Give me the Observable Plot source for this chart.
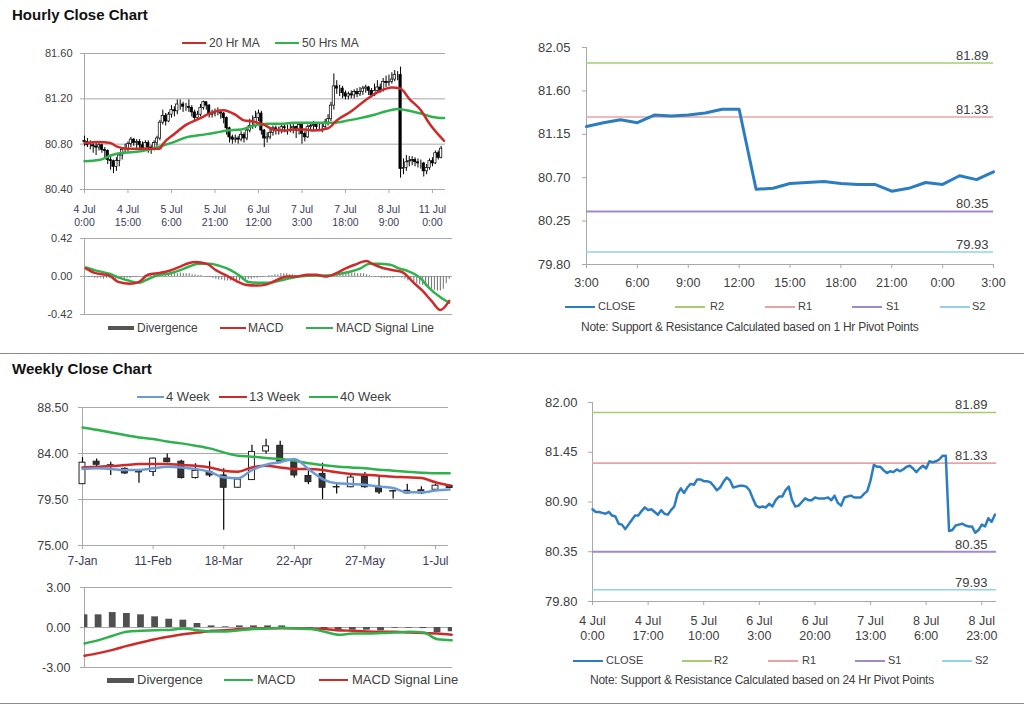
<!DOCTYPE html>
<html><head><meta charset="utf-8">
<script src="https://cdn.jsdelivr.net/npm/d3@7"></script>
<script src="https://cdn.jsdelivr.net/npm/@observablehq/plot@0.6"></script>
<style>
body{margin:0;background:#fff;font-family:"Liberation Sans",Arial,sans-serif;}
#root{position:relative;width:1024px;height:706px;overflow:hidden;background:#fff}
.abs{position:absolute;white-space:nowrap}
.title{font-weight:bold;font-size:15px;color:#111;line-height:18px}
.sep{position:absolute;left:0;width:1024px;height:0;border-top:1px solid #8c8c8c}
</style></head>
<body><div id="root"></div>
<script>
// ---------- Hourly data (4 Jul 0:00 .. 11 Jul 3:00, trading hours) ----------
const hClose = [
80.82,80.79,80.79,80.78,80.77,80.79,80.75,80.74,80.66,80.65,
80.60,80.65,80.70,80.75,80.75,80.80,80.84,80.81,80.82,80.79,
80.76,80.81,80.77,80.76,80.81,80.85,80.99,81.05,81.00,81.06,
81.10,81.09,81.15,81.15,81.13,81.13,81.12,81.08,81.03,81.06,
81.12,81.17,81.14,81.06,81.07,81.08,81.08,81.07,81.03,80.94,
80.86,80.84,80.85,80.84,80.88,80.85,80.92,80.96,80.96,81.03,
81.07,80.92,80.85,80.86,80.90,80.94,80.92,80.92,80.95,80.94,
80.94,80.94,80.95,80.92,80.97,80.89,80.86,80.95,80.96,80.97,
80.95,80.95,80.95,80.99,81.02,81.14,81.31,81.29,81.29,81.25,
81.22,81.24,81.23,81.26,81.24,81.26,81.29,81.30,81.27,81.23,
81.27,81.30,81.27,81.35,81.34,81.35,81.37,81.41,81.41,80.58,
80.59,80.64,80.65,80.66,80.64,80.63,80.63,80.56,80.59,80.65,
80.63,80.72,80.68,80.76];
const hOpen0 = 80.83;
const hHigh = [
80.87,80.85,80.83,80.82,80.81,80.82,80.80,80.77,80.75,80.69,
80.66,80.68,80.72,80.77,80.80,80.82,80.86,80.85,80.84,80.84,
80.82,80.83,80.83,80.79,80.83,80.87,81.01,81.10,81.07,81.08,
81.14,81.13,81.19,81.19,81.17,81.16,81.19,81.14,81.10,81.09,
81.15,81.18,81.17,81.15,81.10,81.11,81.12,81.10,81.08,81.04,
80.95,80.88,80.88,80.87,80.91,80.90,80.95,81.02,81.05,81.09,
81.10,81.09,80.93,80.90,80.93,80.96,80.96,80.95,80.97,80.98,
80.97,80.98,80.98,80.96,80.99,80.98,80.91,80.97,80.99,81.00,
80.99,80.98,80.98,81.02,81.06,81.17,81.42,81.36,81.32,81.31,
81.27,81.26,81.27,81.28,81.29,81.30,81.31,81.32,81.31,81.29,
81.33,81.36,81.33,81.38,81.40,81.41,81.43,81.45,81.44,81.48,
80.67,80.70,80.69,80.69,80.68,80.67,80.66,80.64,80.62,80.67,
80.68,80.74,80.74,80.78];
const hLow = [
80.78,80.77,80.75,80.72,80.70,80.74,80.72,80.68,80.62,80.57,
80.54,80.56,80.60,80.66,80.72,80.73,80.77,80.78,80.76,80.75,
80.73,80.74,80.72,80.71,80.74,80.78,80.83,80.97,80.96,80.99,
81.03,81.04,81.06,81.10,81.08,81.09,81.08,81.04,81.00,81.01,
81.04,81.10,81.10,81.03,81.03,81.04,81.05,81.02,80.98,80.88,
80.81,80.80,80.81,80.80,80.82,80.81,80.83,80.90,80.93,80.94,
81.00,80.88,80.77,80.81,80.84,80.87,80.88,80.88,80.89,80.90,
80.88,80.90,80.89,80.85,80.88,80.80,80.82,80.85,80.92,80.92,
80.91,80.91,80.90,80.93,80.96,81.00,81.10,81.24,81.22,81.20,
81.19,81.19,81.20,81.20,81.21,81.22,81.23,81.25,81.23,81.21,
81.22,81.25,81.25,81.26,81.30,81.31,81.33,81.35,81.36,80.50,
80.53,80.56,80.60,80.61,80.60,80.59,80.58,80.51,80.53,80.57,
80.60,80.62,80.66,80.67];
// moving averages read at sample hours
const ma20Idx = [0,5,9,11,15,19,23,26,27,31,35,40,43,48,52,55,58,62,65,69,72,76,79,84,87,92,97,102,106,109,112,116,119,124];
const ma20Val = [80.81,80.82,80.81,80.78,80.76,80.76,80.76,80.76,80.80,80.89,80.97,81.03,81.07,81.10,81.06,81.01,81.00,80.97,80.93,80.92,80.93,80.93,80.92,80.94,81.01,81.09,81.19,81.27,81.30,81.29,81.20,81.10,80.98,80.83];
const ma50Idx = [0,5,9,12,17,22,26,31,35,40,45,49,54,58,63,68,72,77,81,86,91,95,100,104,108,111,116,120,124];
const ma50Val = [80.65,80.66,80.70,80.72,80.73,80.75,80.78,80.82,80.86,80.88,80.90,80.92,80.93,80.96,80.98,80.98,80.99,80.99,80.99,80.99,81.01,81.03,81.06,81.09,81.11,81.10,81.07,81.04,81.03];
const hTickIdx = [0,15,30,45,60,75,90,105,120];
const hTickLabels = ["4 Jul\n0:00","4 Jul\n15:00","5 Jul\n6:00","5 Jul\n21:00","6 Jul\n12:00","7 Jul\n3:00","7 Jul\n18:00","8 Jul\n9:00","11 Jul\n0:00"];
const hPriceTicks = [80.40,80.80,81.20,81.60];
// hourly MACD
const hMacdIdx = [0,3,8,11,15,18,21,25,28,32,35,37,41,44,47,51,54,58,61,64,68,71,75,78,81,85,88,91,95,97,100,104,107,111,114,117,120,123];
const hMacdVal = [0.09,0.04,0.01,-0.06,-0.08,-0.06,0.02,0.04,0.06,0.11,0.15,0.16,0.14,0.07,0.02,-0.05,-0.09,-0.10,-0.09,-0.05,0.00,0.00,0.02,0.02,0.00,0.04,0.09,0.13,0.17,0.14,0.10,0.07,0.05,-0.07,-0.16,-0.27,-0.37,-0.27];
const hSigIdx = [0,3,8,11,15,18,21,25,28,32,35,38,42,45,49,52,55,59,62,65,69,72,78,82,86,89,93,96,99,103,106,109,113,116,120,123];
const hSigVal = [0.10,0.07,0.03,-0.01,-0.05,-0.07,-0.03,0.02,0.03,0.07,0.11,0.14,0.14,0.12,0.07,0.01,-0.06,-0.07,-0.07,-0.05,-0.02,0.00,0.01,0.01,0.03,0.05,0.09,0.14,0.14,0.13,0.09,0.06,-0.01,-0.12,-0.23,-0.29];
const hDiv = [
0,-0.01,-0.01,-0.02,-0.02,-0.02,-0.03,-0.02,-0.02,-0.02,
-0.03,-0.03,-0.02,-0.03,-0.02,-0.02,-0.01,-0.01,0,0,
0.01,0.02,0.02,0.03,0.03,0.03,0.03,0.04,0.03,0.03,
0.03,0.03,0.04,0.03,0.03,0.03,0.02,0.02,0.01,0.01,
0,-0.01,-0.01,-0.02,-0.03,-0.04,-0.04,-0.05,-0.05,-0.05,
-0.04,-0.05,-0.05,-0.04,-0.04,-0.03,-0.03,-0.02,-0.02,-0.01,
-0.01,0,0.01,0.01,0.02,0.02,0.03,0.03,0.03,0.02,
0.02,0.01,0.01,0,0,0,0,0,0,-0.01,
0,0,0,0.01,0.02,0.03,0.03,0.04,0.04,0.04,
0.04,0.04,0.03,0.03,0.03,0.02,0.01,0,-0.01,-0.01,
-0.02,-0.02,-0.02,-0.02,-0.02,-0.01,-0.01,-0.02,-0.03,-0.05,
-0.06,-0.07,-0.08,-0.09,-0.10,-0.11,-0.12,-0.14,-0.15,-0.16,
-0.16,-0.14,-0.08,-0.03];
const hMacdTicks = [-0.42,0,0.42];

// ---------- 24-hour close chart (last 25 hours) ----------
const dayTickIdx = [0,3,6,9,12,15,18,21,24];
const dayTickLabels = ["3:00","6:00","9:00","12:00","15:00","18:00","21:00","0:00","3:00"];
const dayPriceTicks = [79.80,80.25,80.70,81.15,81.60,82.05];
// pivot levels
const levelNames = ["R2","R1","S1","S2"];
const levelValues = [81.89,81.33,80.35,79.93];
const levelColors = ["#a6cc72","#e8a4a4","#a08ac8","#92d3e8"];

// ---------- hourly close full period ----------
const fullTickIdx = [0,17,34,51,68,85,102,119];
const fullTickLabels = ["4 Jul\n0:00","4 Jul\n17:00","5 Jul\n10:00","6 Jul\n3:00","6 Jul\n20:00","7 Jul\n13:00","8 Jul\n6:00","8 Jul\n23:00"];
const fullPriceTicks = [79.80,80.35,80.90,81.45,82.00];

// ---------- Weekly data (7-Jan .. 8-Jul) ----------
const wOpen  = [81.0,83.2,82.85,82.5,82.25,82.2,83.5,83.2,81.6,82.2,81.85,80.65,81.4,84.2,84.75,83.15,81.8,82.0,80.72,80.7,81.75,80.75,80.32,80.35,80.4,80.45,80.85];
const wClose = [83.1,82.9,82.7,82.05,82.15,83.5,83.15,81.6,82.3,81.85,80.65,81.45,84.15,84.7,83.2,81.85,81.2,80.65,80.68,81.65,80.7,80.2,80.28,80.1,80.1,80.85,80.63];
const wHigh  = [83.6,83.45,83.15,82.6,82.35,83.55,83.95,83.35,83.0,83.2,82.5,81.5,84.8,85.4,85.2,83.45,82.3,83.05,81.0,81.9,82.15,81.65,80.4,81.0,80.75,81.0,80.95];
const wLow   = [81.0,82.65,81.85,81.95,81.1,81.75,83.1,81.5,81.5,81.65,76.5,80.6,81.35,83.95,83.0,81.6,80.95,79.5,80.05,80.65,80.6,79.98,79.55,80.05,80.0,80.4,80.55];
const wMa4  = [82.48,82.55,82.48,82.38,82.38,82.55,82.71,82.64,82.48,82.22,81.67,81.57,82.38,82.9,83.15,83.46,82.48,81.5,81.08,81.02,80.95,80.76,80.63,80.2,80.2,80.37,80.47];
const wMa13 = [82.64,82.71,82.77,82.87,82.97,82.97,82.97,82.87,82.8,82.64,82.32,82.22,82.64,82.8,82.64,82.48,82.48,82.38,82.16,82.0,81.93,81.83,81.73,81.67,81.6,81.18,80.86];
const wMa40 = [86.55,86.32,86.06,85.8,85.57,85.41,85.18,84.99,84.76,84.5,84.11,83.78,83.69,83.56,83.46,83.3,83.04,82.87,82.74,82.64,82.55,82.42,82.32,82.22,82.12,82.06,82.06];
const wTickIdx = [0,5,10,15,20,25];
const wTickLabels = ["7-Jan","11-Feb","18-Mar","22-Apr","27-May","1-Jul"];
const wPriceTicks = [75.00,79.50,84.00,88.50];
const wDiv  = [0.95,0.95,1.12,1.05,0.95,0.8,0.62,0.55,0.3,0.12,0.05,0.12,0.12,0.12,0.12,0,-0.05,-0.12,-0.32,-0.2,-0.2,-0.25,-0.05,-0.05,-0.08,-0.38,-0.32];
const wMacd = [-1.2,-0.95,-0.62,-0.32,-0.25,-0.2,-0.18,-0.08,-0.2,-0.3,-0.3,-0.2,-0.12,-0.08,-0.02,-0.08,-0.12,-0.32,-0.55,-0.45,-0.45,-0.42,-0.38,-0.32,-0.38,-0.88,-0.95];
const wSig  = [-2.12,-1.92,-1.68,-1.38,-1.12,-0.88,-0.68,-0.5,-0.38,-0.25,-0.2,-0.12,-0.08,-0.05,-0.05,-0.05,-0.08,-0.12,-0.2,-0.25,-0.3,-0.32,-0.32,-0.38,-0.42,-0.45,-0.55];
const wMacdTicks = [-3,0,3];

// ---------- colours ----------
const RED = "#cf2a2a", GREEN = "#2fb24e", BLUE = "#2b7dc2", LBLUE = "#6b9bd6", GRID = "#a8a8a8", TXT = "#404040", XTXT = "#3b3b58";
const FONT = '"Liberation Sans", Arial, sans-serif';

const root = document.getElementById("root");
function place(el, left, top){ const d=document.createElement("div"); d.style.cssText=`position:absolute;left:${left}px;top:${top}px;`; d.appendChild(el); root.appendChild(d); return d; }
function P(opts, left, top){
  const o = {...opts,
    x:{label:null, ...(opts.x||{})}, y:{label:null, ...(opts.y||{})},
    style:{fontFamily:FONT, background:"transparent", overflow:"visible", color:TXT}};
  return place(Plot.plot(o), left, top);
}
function txt(s, left, top, css){ const d=document.createElement("div"); d.className="abs"; d.textContent=s; d.style.cssText+=`left:${left}px;top:${top}px;`+(css||""); root.appendChild(d); return d; }
function legend(items, yc, fs){
  items.forEach(([sx, sw, color, th, tx, label]) => {
    const s=document.createElement("div"); s.className="abs";
    s.style.cssText+=`left:${sx}px;top:${yc-th/2}px;width:${sw}px;height:${th}px;background:${color};`;
    root.appendChild(s);
    txt(label, tx, yc - fs*0.6, `font-size:${fs}px;color:${TXT};line-height:${fs*1.2}px;`);
  });
}
const f2 = d => d.toFixed(2);
const lbl = (ticks, labels) => d => labels[ticks.indexOf(d)];
const pts = (idx, val) => idx.map((x,k)=>({x, y:val[k]}));

// ---------- titles & separators ----------
txt("Hourly Close Chart", 12, 6, "").className="abs title";
txt("Weekly Close Chart", 12, 360, "").className="abs title";
const s1=document.createElement("div"); s1.className="sep"; s1.style.top="353px"; root.appendChild(s1);
const s2=document.createElement("div"); s2.className="sep"; s2.style.top="703px"; root.appendChild(s2);

// ---------- Panel A: hourly candles ----------
const hRows = hClose.map((c,i)=>({i, o: i? hClose[i-1] : hOpen0, c, h:hHigh[i], l:hLow[i]}));
P({
  width:470, height:200, marginLeft:84, marginRight:25, marginTop:23, marginBottom:41,
  x:{domain:[0,124.5]}, y:{domain:[80.40,81.60]},
  marks:[
    Plot.ruleY(hPriceTicks, {stroke:GRID}),
    Plot.ruleX([0], {stroke:GRID}),
    Plot.axisY(hPriceTicks, {tickFormat:f2, tickSize:4, tickPadding:8, stroke:GRID, fill:TXT, fontSize:11}),
    Plot.axisX(hTickIdx, {tickFormat:lbl(hTickIdx,hTickLabels), tickSize:4, tickPadding:11, stroke:GRID, fill:XTXT, fontSize:10.5, lineHeight:1.2}),
    Plot.ruleX(hRows, {x:"i", y1:"l", y2:"h", stroke:"#000", strokeWidth:1}),
    Plot.rect(hRows.filter(d=>d.c>=d.o), {x1:d=>d.i-0.4, x2:d=>d.i+0.4, y1:"o", y2:"c", fill:"#fff", stroke:"#000", strokeWidth:0.7}),
    Plot.rect(hRows.filter(d=>d.c<d.o), {x1:d=>d.i-0.4, x2:d=>d.i+0.4, y1:"o", y2:"c", fill:"#000", stroke:"#000", strokeWidth:0.7}),
    Plot.line(pts(ma50Idx, ma50Val), {x:"x", y:"y", stroke:GREEN, strokeWidth:2.5, curve:"monotone-x"}),
    Plot.line(pts(ma20Idx, ma20Val), {x:"x", y:"y", stroke:RED, strokeWidth:2.5, curve:"monotone-x"})
  ]
}, 0, 30);
legend([[182,24,RED,2,209,"20 Hr MA"],[275,24,GREEN,2,302,"50 Hrs MA"]], 43, 12);

// ---------- Panel A': hourly MACD ----------
P({
  width:470, height:95, marginLeft:84, marginRight:18, marginTop:13, marginBottom:6,
  x:{domain:[-0.44,124.1], axis:null}, y:{domain:[-0.42,0.42]},
  marks:[
    Plot.ruleY(hMacdTicks, {stroke:GRID}),
    Plot.ruleX([-0.44], {stroke:GRID}),
    Plot.axisY(hMacdTicks, {tickFormat:f2, tickSize:4, tickPadding:8, stroke:GRID, fill:TXT, fontSize:11}),
    Plot.ruleX(hDiv.map((v,i)=>({i,v})), {x:"i", y1:0, y2:"v", stroke:"#7a7a7a", strokeWidth:1.1}),
    Plot.line(pts(hSigIdx, hSigVal), {x:"x", y:"y", stroke:GREEN, strokeWidth:2.5, curve:"monotone-x"}),
    Plot.line(pts(hMacdIdx, hMacdVal), {x:"x", y:"y", stroke:RED, strokeWidth:2.5, curve:"monotone-x"})
  ]
}, 0, 225);
legend([[108,26,"#555",4,137,"Divergence"],[220,26,RED,2,248,"MACD"],[306,27,GREEN,2,336,"MACD Signal Line"]], 328, 12);

// ---------- Panel B: last 24 hours with pivots ----------
const dayRows = hClose.slice(hClose.length-25).map((v,k)=>({k,v}));
function pivotMarks(dx){
  return [
    ...levelValues.map((v,k)=>Plot.ruleY([v], {stroke:levelColors[k], strokeWidth:k===2?2:1.6})),
    Plot.text(levelValues, {y:d=>d, text:f2, frameAnchor:"right", textAnchor:"end", lineAnchor:"bottom", dx, dy:-3, fontSize:13, fill:TXT})
  ];
}
P({
  width:490, height:270, marginLeft:66, marginRight:17, marginTop:17, marginBottom:36,
  x:{domain:[0,24]}, y:{domain:[79.80,82.05]},
  marks:[
    Plot.ruleX([0], {stroke:GRID}),
    Plot.ruleY([79.80], {stroke:GRID}),
    Plot.axisY(dayPriceTicks, {tickFormat:f2, tickSize:4, tickPadding:12, stroke:GRID, fill:TXT, fontSize:13}),
    Plot.axisX(dayTickIdx, {tickFormat:lbl(dayTickIdx,dayTickLabels), tickSize:4, tickPadding:10, stroke:GRID, fill:TXT, fontSize:12.5}),
    ...pivotMarks(-5),
    Plot.line(dayRows, {x:"k", y:"v", stroke:BLUE, strokeWidth:3})
  ]
}, 520, 30);
const pivLegend = (y, xs) => legend([
  [xs[0],30,BLUE,2.5,xs[1],"CLOSE"],[xs[2],30,levelColors[0],1.5,xs[3],"R2"],[xs[4],30,levelColors[1],1.5,xs[5],"R1"],
  [xs[6],30,levelColors[2],1.5,xs[7],"S1"],[xs[8],30,levelColors[3],1.5,xs[9],"S2"]], y, 11);
pivLegend(307, [565,598,675,710,765,798,852,886,940,972]);
txt("Note: Support & Resistance Calculated based on 1 Hr Pivot Points", 581, 320, `font-size:12px;color:${TXT};letter-spacing:-0.25px;`);

// ---------- Panel C: weekly candles ----------
const wRows = wClose.map((c,i)=>({i, o:wOpen[i], c, h:wHigh[i], l:wLow[i]}));
P({
  width:470, height:200, marginLeft:82, marginRight:22, marginTop:27, marginBottom:35,
  x:{domain:[0,25.92]}, y:{domain:[75,88.5]},
  marks:[
    Plot.ruleY(wPriceTicks, {stroke:GRID}),
    Plot.ruleX([0], {stroke:GRID}),
    Plot.axisY(wPriceTicks, {tickFormat:f2, tickSize:4, tickPadding:10, stroke:GRID, fill:TXT, fontSize:12.5}),
    Plot.axisX(wTickIdx, {tickFormat:lbl(wTickIdx,wTickLabels), tickSize:4, tickPadding:7, stroke:GRID, fill:XTXT, fontSize:12}),
    Plot.ruleX(wRows, {x:"i", y1:"l", y2:"h", stroke:"#000", strokeWidth:1.2}),
    Plot.rect(wRows.filter(d=>d.c>=d.o), {x1:d=>d.i-0.21, x2:d=>d.i+0.21, y1:"o", y2:"c", fill:"#fff", stroke:"#222", strokeWidth:1}),
    Plot.rect(wRows.filter(d=>d.c<d.o), {x1:d=>d.i-0.21, x2:d=>d.i+0.21, y1:"o", y2:"c", fill:"#333", stroke:"#222", strokeWidth:1}),
    Plot.line(wMa40.map((v,i)=>({i,v})), {x:"i", y:"v", stroke:GREEN, strokeWidth:2.5, curve:"monotone-x"}),
    Plot.line(wMa13.map((v,i)=>({i,v})), {x:"i", y:"v", stroke:RED, strokeWidth:2.5, curve:"monotone-x"}),
    Plot.line(wMa4.map((v,i)=>({i,v})), {x:"i", y:"v", stroke:LBLUE, strokeWidth:2.5, curve:"monotone-x"})
  ]
}, 0, 380);
legend([[137,27,LBLUE,2,166,"4 Week"],[219,28,RED,2,249,"13 Week"],[309,29,GREEN,2,340,"40 Week"]], 397, 13);

// ---------- Panel C': weekly MACD ----------
P({
  width:470, height:100, marginLeft:84, marginRight:18, marginTop:12, marginBottom:8,
  x:{domain:[0,26.06], axis:null}, y:{domain:[-3,3]},
  marks:[
    Plot.ruleY(wMacdTicks, {stroke:GRID}),
    Plot.ruleX([0], {stroke:GRID}),
    Plot.axisY(wMacdTicks, {tickFormat:f2, tickSize:4, tickPadding:10, stroke:GRID, fill:TXT, fontSize:12.5}),
    Plot.rect(wDiv.map((v,i)=>({i,v})), {x1:d=>d.i-0.24, x2:d=>d.i+0.24, y1:0, y2:"v", fill:"#505050", clip:true}),
    Plot.line(wSig.map((v,i)=>({i,v})), {x:"i", y:"v", stroke:RED, strokeWidth:2.5, curve:"monotone-x"}),
    Plot.line(wMacd.map((v,i)=>({i,v})), {x:"i", y:"v", stroke:GREEN, strokeWidth:2.5, curve:"monotone-x"})
  ]
}, 0, 575);
legend([[107,27,"#555",5,137,"Divergence"],[224,29,GREEN,2,257,"MACD"],[319,29,RED,2,352,"MACD Signal Line"]], 680, 13);

// ---------- Panel D: full hourly close with 24h pivots ----------
P({
  width:490, height:275, marginLeft:72, marginRight:14, marginTop:22, marginBottom:54,
  x:{domain:[0,123.5]}, y:{domain:[79.80,82.00]},
  marks:[
    Plot.ruleX([0], {stroke:GRID}),
    Plot.ruleY([79.80], {stroke:GRID}),
    Plot.axisY(fullPriceTicks, {tickFormat:f2, tickSize:4, tickPadding:11, stroke:GRID, fill:TXT, fontSize:13}),
    Plot.axisX(fullTickIdx, {tickFormat:lbl(fullTickIdx,fullTickLabels), tickSize:4, tickPadding:9, stroke:GRID, fill:TXT, fontSize:12.5, lineHeight:1.2}),
    ...pivotMarks(-9),
    Plot.line(hClose.map((v,i)=>({i,v})), {x:"i", y:"v", stroke:BLUE, strokeWidth:2.5})
  ]
}, 520, 380);
pivLegend(661, [573,606,682,714,768,802,855,888,942,975]);
txt("Note: Support & Resistance Calculated based on 24 Hr Pivot Points", 590, 673, `font-size:12px;color:${TXT};letter-spacing:-0.25px;`);
</script>
</body></html>
